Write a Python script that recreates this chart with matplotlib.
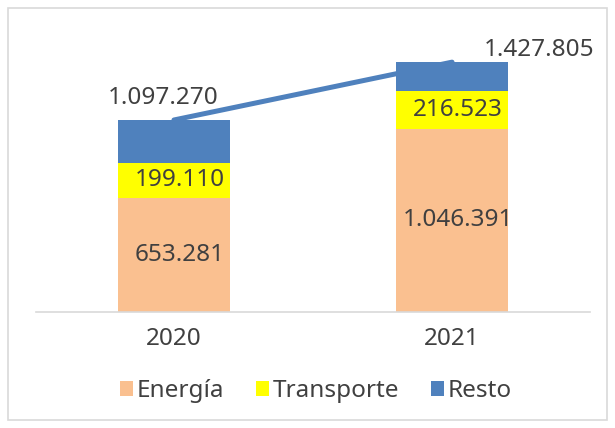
import numpy as np
import matplotlib.pyplot as plt
from matplotlib.patches import Rectangle

years = ['2020', '2021']
energia = [653281, 1046391]
transporte = [199110, 216523]
total = [1097270, 1427805]
resto = [t - e - tr for t, e, tr in zip(total, energia, transporte)]

def fmt(v):
    return f"{v:,}".replace(",", ".")

plt.rcParams['font.family'] = ['Noto Sans', 'DejaVu Sans']
plt.rcParams['font.weight'] = 'light'
txt = '#404040'
fs = 17.5

fig = plt.figure(figsize=(6.15, 4.28), dpi=100)
fig.patches.append(Rectangle((8/615, 8/428), 599/615, 412/428, transform=fig.transFigure,
                             fill=False, edgecolor='#d9d9d9', linewidth=1.2))
ax = fig.add_axes([36/615, 1 - 312/428, 554/615, 280/428])

x = np.arange(len(years))
w = 0.4
b1 = ax.bar(x, energia, w, color='#FAC090', label='Energía')
b2 = ax.bar(x, transporte, w, bottom=energia, color='#FFFF00', label='Transporte')
b3 = ax.bar(x, resto, w, bottom=np.array(energia) + np.array(transporte), color='#4F81BD', label='Resto')
ax.plot(x, total, color='#4F81BD', linewidth=3.6, solid_capstyle='round')

for i in range(len(years)):
    ax.text(x[i] + 0.02, energia[i] / 2, fmt(energia[i]), ha='center', va='center', fontsize=fs, color=txt)
    ax.text(x[i] + 0.02, energia[i] + transporte[i] / 2, fmt(transporte[i]), ha='center', va='center',
            fontsize=fs, color=txt)

ax.annotate(fmt(total[0]), (x[0], total[0]), xytext=(-8, 16), textcoords='offset points',
            ha='center', va='center', fontsize=fs, color=txt)
ax.annotate(fmt(total[1]), (x[1], total[1]), xytext=(63, 9), textcoords='offset points',
            ha='center', va='center', fontsize=fs, color=txt)

ax.set_xlim(-0.496, 1.496)
ax.set_ylim(0, 1600000)
ax.set_yticks([])
ax.set_xticks(x)
ax.set_xticklabels(years, fontsize=fs, color=txt)
ax.tick_params(axis='x', length=0, pad=11)
for s in ['top', 'right', 'left']:
    ax.spines[s].set_visible(False)
ax.spines['bottom'].set_color('#d9d9d9')
ax.spines['bottom'].set_linewidth(1.2)

fig.legend(handles=[b1, b2, b3], loc='center', bbox_to_anchor=(316/615, 1 - 391/428), ncol=3,
           frameon=False, fontsize=fs, labelcolor=txt, handlelength=0.55, handleheight=0.55,
           handletextpad=0.15, columnspacing=1.3)

fig.savefig('out.png', dpi=100)
